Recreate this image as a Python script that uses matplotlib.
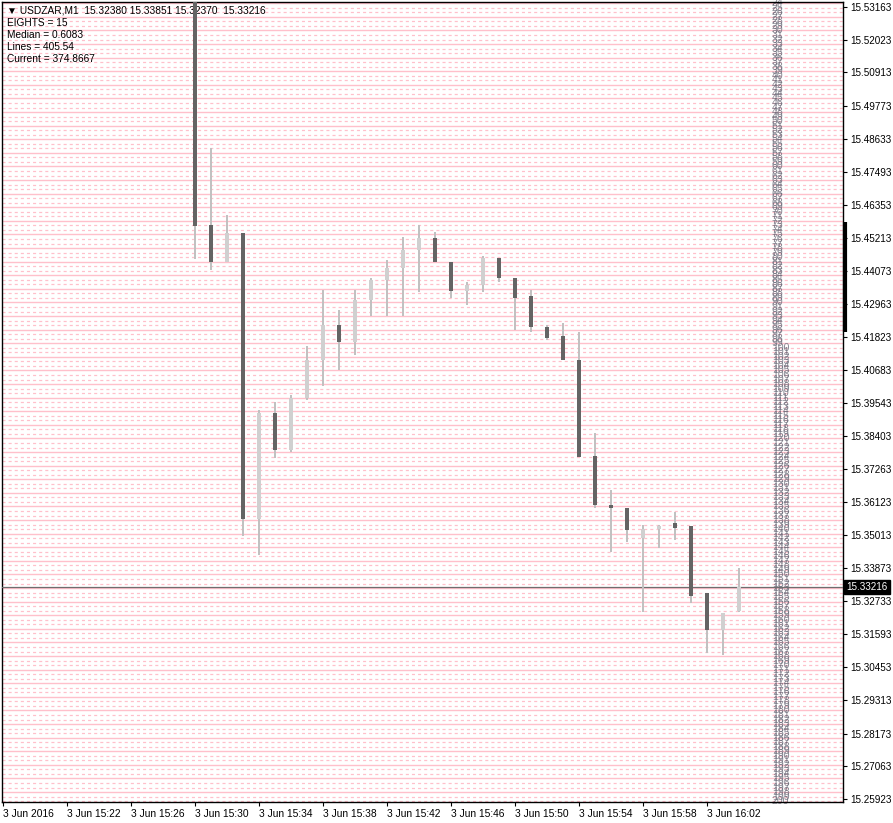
import numpy as np
import matplotlib
matplotlib.use('Agg')
import matplotlib.pyplot as plt

# ---- chart values
bar_times = ['15:30', '15:31', '15:32', '15:33', '15:34', '15:35', '15:36', '15:37',
             '15:38', '15:39', '15:40', '15:41', '15:42', '15:43', '15:44', '15:45',
             '15:46', '15:47', '15:48', '15:49', '15:50', '15:51', '15:52', '15:53',
             '15:54', '15:55', '15:56', '15:57', '15:58', '15:59', '16:00', '16:01',
             '16:02', '16:03', '16:04']
opens = [15.56000, 15.45665, 15.44393, 15.45390, 15.35553, 15.39199, 15.37927, 15.39715,
         15.41022, 15.42226, 15.41641, 15.43086, 15.43773, 15.44200, 15.44800, 15.45218,
         15.44393, 15.43395, 15.43600, 15.44530, 15.43842, 15.43223, 15.42157, 15.41847,
         15.41022, 15.37720, 15.36035, 15.35932, 15.34900, 15.35200, 15.35416, 15.35313,
         15.33008, 15.31736, 15.32380]
highs = [15.57000, 15.48313, 15.46009, 15.45390, 15.39302, 15.39577, 15.39818, 15.41503,
         15.43430, 15.42742, 15.43430, 15.43842, 15.44461, 15.45252, 15.45665, 15.45424,
         15.44393, 15.43705, 15.44599, 15.44530, 15.43842, 15.43430, 15.42226, 15.42295,
         15.41985, 15.38511, 15.36551, 15.35932, 15.35347, 15.35347, 15.35794, 15.35313,
         15.33008, 15.32320, 15.33851]
lows = [15.44496, 15.44117, 15.44393, 15.34969, 15.34315, 15.37651, 15.37858, 15.39646,
        15.40128, 15.40678, 15.41194, 15.42535, 15.42535, 15.42535, 15.43361, 15.44393,
        15.43154, 15.42914, 15.43361, 15.43705, 15.42054, 15.41985, 15.41710, 15.41022,
        15.37686, 15.35932, 15.34418, 15.34762, 15.32355, 15.34556, 15.34831, 15.32664,
        15.30945, 15.30876, 15.32370]
closes = [15.45631, 15.44393, 15.45390, 15.35553, 15.39199, 15.37927, 15.39715, 15.41022,
          15.42226, 15.41641, 15.43086, 15.43773, 15.44200, 15.44800, 15.45218, 15.44393,
          15.43395, 15.43600, 15.44530, 15.43842, 15.43154, 15.42157, 15.41779, 15.41022,
          15.37686, 15.36035, 15.35932, 15.35175, 15.35200, 15.35300, 15.35244, 15.32905,
          15.31736, 15.32320, 15.33216]

price_ticks = [15.53163, 15.52023, 15.50913, 15.49773, 15.48633, 15.47493, 15.46353,
               15.45213, 15.44073, 15.42963, 15.41823, 15.40683, 15.39543, 15.38403,
               15.37263, 15.36123, 15.35013, 15.33873, 15.32733, 15.31593, 15.30453,
               15.29313, 15.28173, 15.27063, 15.25923]
time_labels = ['3 Jun 2016', '3 Jun 15:22', '3 Jun 15:26', '3 Jun 15:30', '3 Jun 15:34',
               '3 Jun 15:38', '3 Jun 15:42', '3 Jun 15:46', '3 Jun 15:50', '3 Jun 15:54',
               '3 Jun 15:58', '3 Jun 16:02']
time_minutes = [0, 4, 8, 12, 16, 20, 24, 28, 32, 36, 40, 44]   # minutes after 15:18

current_price = 15.33216
header = 'USDZAR,M1  15.32380 15.33851 15.32370  15.33216'
info_lines = ['EIGHTS = 15', 'Median = 0.6083', 'Lines = 405.54', 'Current = 374.8667']

# level grid (pink lines every ~0.00156, every third one solid)
level_step = 0.0015592
level_anchor = 15.46742
level_label_zero = 15.57100


def minute_of(t):
    h, m = t.split(':')
    return (int(h) - 15) * 60 + int(m) - 18


def plot_chart():
    plt.rcParams['lines.scale_dashes'] = False
    plt.rcParams['font.family'] = ['Liberation Sans', 'DejaVu Sans']
    fig = plt.figure(figsize=(8.93, 8.23), dpi=100)
    ax = fig.add_axes([2 / 893, 1 - 802 / 823, 841 / 893, 800 / 823])
    ymin, ymax = 15.25820, 15.53335
    ax.set_xlim(-1 / 16, 52.5)
    ax.set_ylim(ymin, ymax)

    # level lines
    k0 = int(np.floor((ymin - level_anchor) / level_step)) - 1
    k1 = int(np.ceil((ymax - level_anchor) / level_step)) + 1
    for k in range(k0, k1):
        lv = level_anchor + k * level_step
        if k % 3 == 0:
            ax.axhline(lv, color='#ffc0cb', lw=1.0, zorder=1)
        else:
            ax.axhline(lv, color='#ffc0cb', lw=0.9, ls=(0, (2.2, 2.2)), zorder=1)
        # level number column
        n = int(round((level_label_zero - lv) / level_step))
        if ymin < lv < ymax:
            ax.text(48.05, lv, str(n), fontsize=7.6, color='#6a6a78', alpha=0.8,
                    ha='left', va='center', zorder=2)

    # candles
    xs = [minute_of(t) for t in bar_times]
    for x, o, h, l, c in zip(xs, opens, highs, lows, closes):
        ax.vlines(x, l, h, color='#c0c0c0', lw=1.4, zorder=4)
        lo, hi = min(o, c), max(o, c)
        col = '#646464' if c < o else '#d0d0d0'
        ax.bar(x, hi - lo, bottom=lo, width=0.19, color=col, lw=0, zorder=5)

    # current price line
    ax.axhline(current_price, color='#6e6e6e', lw=0.9, zorder=3)

    # axes styling
    for side in ['left', 'top', 'right', 'bottom']:
        ax.spines[side].set_color('black')
        ax.spines[side].set_linewidth(1.0)
    ax.yaxis.tick_right()
    ax.set_yticks(price_ticks)
    ax.set_yticklabels(['%.5f' % p for p in price_ticks], fontsize=7.1)
    ax.tick_params(axis='y', length=3, width=0.8, pad=2)
    ax.set_xticks(time_minutes)
    ax.set_xticklabels(time_labels, fontsize=7.4, ha='left')
    ax.tick_params(axis='x', length=3, width=0.8, pad=2)

    # thick marker on the price scale
    ax.plot([52.6, 52.6], [15.41985, 15.45768], color='black', lw=3,
            solid_capstyle='butt', clip_on=False, zorder=6)

    # current price box
    ax.text(1.004, current_price, '15.33216', transform=ax.get_yaxis_transform(),
            fontsize=7.1, color='white', ha='left', va='center',
            bbox=dict(boxstyle='square,pad=0.2', fc='black', ec='black'), zorder=7)

    # header texts
    ax.text(5 / 841, 1 - 8 / 800, '\u25bc ' + header, transform=ax.transAxes,
            fontsize=7.3, color='black', ha='left', va='center', zorder=3)
    for i, s in enumerate(info_lines):
        ax.text(5 / 841, 1 - (21 + 12 * i) / 800, s, transform=ax.transAxes,
                fontsize=7.3, color='black', ha='left', va='center', zorder=3)

    plt.savefig('out.png', dpi=100)


if __name__ == "__main__":
    plot_chart()
